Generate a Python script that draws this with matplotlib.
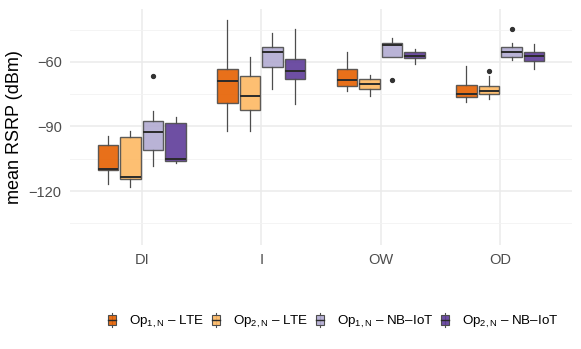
import numpy as np
import matplotlib
matplotlib.use("Agg")
import matplotlib.pyplot as plt
from matplotlib.legend_handler import HandlerBase
from matplotlib.patches import Rectangle
from matplotlib.lines import Line2D

plt.rcParams['font.family'] = ['Liberation Sans', 'DejaVu Sans']
plt.rcParams['mathtext.fontset'] = 'custom'
plt.rcParams['mathtext.rm'] = 'Liberation Sans'
plt.rcParams['mathtext.it'] = 'Liberation Sans'

# data (dBm)
scenarios = ["DI", "I", "OW", "OD"]
series = [r"Op$_{\mathrm{1,N}}$ – LTE", r"Op$_{\mathrm{2,N}}$ – LTE",
          r"Op$_{\mathrm{1,N}}$ – NB–IoT", r"Op$_{\mathrm{2,N}}$ – NB–IoT"]
colors = ["#E66101", "#FDB863", "#B2ABD2", "#5E3C99"]

# per series: rows = scenarios, columns = (whislo, q1, med, q3, whishi)
op1_lte = [(-116.9, -110.2, -109.9, -98.5, -94.3),
           (-92.0, -78.9, -69.0, -63.4, -40.5),
           (-73.3, -71.2, -68.4, -63.4, -55.3),
           (-78.5, -76.3, -74.9, -70.7, -61.9)]
op2_lte = [(-118.0, -114.4, -113.5, -94.9, -92.1),
           (-92.2, -82.3, -75.8, -66.4, -57.7),
           (-76.0, -72.7, -70.2, -67.9, -65.9),
           (-77.3, -74.9, -73.3, -71.0, -66.7)]
op1_nb = [(-108.4, -101.1, -92.4, -87.4, -82.8),
          (-72.4, -62.5, -55.3, -53.0, -46.5),
          (-57.8, -57.8, -52.1, -51.0, -48.7),
          (-59.1, -57.7, -55.2, -52.9, -51.3)]
op2_nb = [(-107.1, -105.9, -105.0, -88.2, -85.7),
          (-79.5, -68.0, -64.2, -58.6, -44.7),
          (-61.1, -58.0, -57.2, -55.5, -53.8),
          (-63.1, -59.4, -57.2, -55.2, -51.6)]
outliers = [
    [[], [], [], []],
    [[], [], [], [-64.0]],
    [[-66.4], [], [-68.5], [-44.5]],
    [[], [], [], []],
]
all_stats = [op1_lte, op2_lte, op1_nb, op2_nb]

fig = plt.figure(figsize=(5.81, 3.49), dpi=100)
ax = fig.add_axes([70 / 581, 1 - 245 / 349, 502 / 581, 236 / 349])

offsets = [-0.283, -0.094, 0.094, 0.283]
edge = "#4d4d4d"
for s, stats in enumerate(all_stats):
    bxp_stats = []
    for c, (lo, q1, med, q3, hi) in enumerate(stats):
        bxp_stats.append(dict(whislo=lo, q1=q1, med=med, q3=q3, whishi=hi,
                              fliers=outliers[s][c]))
    pos = np.arange(1, len(scenarios) + 1) + offsets[s]
    ax.bxp(bxp_stats, positions=pos, widths=0.17, patch_artist=True,
           showcaps=False, manage_ticks=False,
           boxprops=dict(facecolor=colors[s], edgecolor=edge, linewidth=1.0, alpha=0.9),
           medianprops=dict(color="#2b2b2b", linewidth=1.4),
           whiskerprops=dict(color=edge, linewidth=0.9),
           flierprops=dict(marker='o', markersize=2.8, markerfacecolor="#333333",
                           markeredgecolor="#333333"))

ax.set_xlim(0.4, 4.6)
ax.set_ylim(-145.1, -35.4)
ax.set_xticks(range(1, 5))
ax.set_xticklabels(scenarios)
ax.set_yticks([-120, -90, -60])
ax.set_yticklabels(["\u2212120", "\u221290", "\u221260"])
ax.set_yticks([-135, -105, -75, -45], minor=True)
ax.grid(True, which='major', color="#ebebeb", linewidth=1.1)
ax.grid(True, which='minor', axis='y', color="#f2f2f2", linewidth=0.6)
ax.set_axisbelow(True)
for sp in ax.spines.values():
    sp.set_visible(False)
ax.tick_params(which='both', length=0, colors="#4d4d4d", labelsize=10.5, pad=6)
ax.set_ylabel("mean RSRP (dBm)", fontsize=13, color="black", labelpad=4)


class BoxKey(HandlerBase):
    def create_artists(self, legend, orig_handle, xdescent, ydescent,
                       width, height, fontsize, trans):
        cx = width / 2 - xdescent
        w = width * 0.8
        line = Line2D([cx, cx], [-ydescent - 1, height - ydescent + 1],
                      color=edge, lw=0.8, transform=trans)
        rect = Rectangle((cx - w / 2, -ydescent + 0.5), w, height - 1,
                         facecolor=orig_handle.get_facecolor(), edgecolor=edge,
                         lw=0.8, transform=trans)
        med = Line2D([cx - w / 2, cx + w / 2], [height / 2 - ydescent] * 2,
                     color="#2b2b2b", lw=1.0, transform=trans)
        return [line, rect, med]


handles = [Rectangle((0, 0), 1, 1, facecolor=c, alpha=0.9) for c in colors]
fig.legend(handles, series, handler_map={Rectangle: BoxKey()},
           loc='center', bbox_to_anchor=(333 / 581, 1 - 322 / 349), ncol=4,
           frameon=False, fontsize=9.6, handlelength=0.75, handleheight=0.95,
           handletextpad=0.9, columnspacing=0.5)

fig.savefig("out.png", dpi=100)
